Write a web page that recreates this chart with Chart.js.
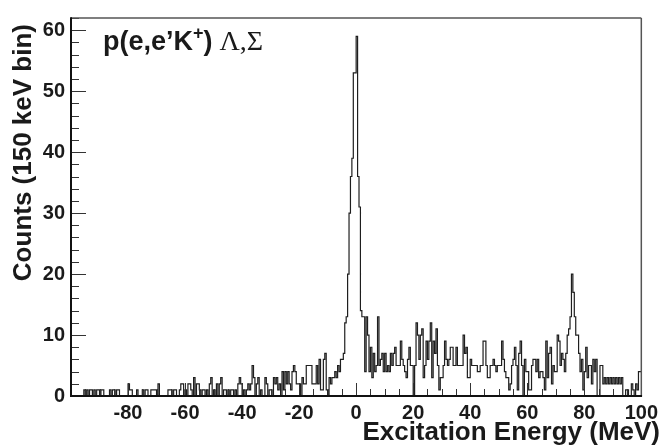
<!DOCTYPE html>
<html><head><meta charset="utf-8">
<script src="https://cdn.jsdelivr.net/npm/chart.js@4.4.1/dist/chart.umd.min.js"></script>
<style>html,body{margin:0;padding:0;background:#fff}#wrap{width:663px;height:445px;position:relative}</style>
</head><body><div id="wrap"><canvas id="c" width="663" height="445"></canvas></div>
<script>
// ---- data (counts per bin, bins of binWidth MeV starting at binStart) ----
const binStart = -100;
const binWidth = 0.5;
const counts = [
  0,0,0,0,0,0,0,0,0,1,      // -100
  0,1,0,1,1,0,1,0,1,1,      // -95
  0,1,1,0,0,0,0,1,0,1,      // -90
  1,0,1,1,0,0,0,0,0,0,      // -85
  2,1,1,0,0,0,1,0,0,0,      // -80
  1,0,1,1,0,0,1,1,1,1,      // -75
  0,2,0,0,0,0,0,0,1,1,      // -70
  1,0,1,1,0,0,1,2,2,0,      // -65
  1,0,2,2,1,0,3,0,2,2,      // -60
  1,0,1,1,0,1,0,2,3,0,      // -55
  1,0,2,0,2,3,0,1,1,0,      // -50
  1,0,1,1,0,1,0,2,3,2,      // -45
  0,1,0,1,2,1,2,5,3,0,      // -40
  2,3,0,1,0,0,3,2,0,1,      // -35
  1,0,3,2,3,1,2,0,4,1,      // -30
  4,2,4,2,1,4,5,4,2,2,      // -25
  2,0,3,2,2,5,5,5,5,2,      // -20
  2,2,5,2,6,1,1,6,7,1,      // -15
  0,3,2,3,3,4,3,5,4,6,      // -10
  6,7,12,13,20,30,36,39,53,53, // -5
  59,36,31,14,13,13,4,13,10,4, // 0
  8,3,7,4,5,13,5,6,7,4,     // 5
  7,4,5,4,7,5,7,8,5,5,      // 10
  5,9,6,5,4,3,6,8,5,5,      // 15
  0,5,12,10,6,10,11,3,5,9,  // 20
  6,9,12,3,9,7,11,5,1,3,    // 25
  3,5,9,6,5,6,8,8,5,5,      // 30
  8,5,5,5,5,10,7,8,3,3,     // 35
  6,5,5,5,5,4,4,5,5,9,      // 40
  9,5,3,3,5,5,6,5,4,5,      // 45
  5,5,9,6,4,3,3,1,2,5,      // 50
  6,8,5,1,7,9,5,0,6,4,      // 55
  4,1,1,5,6,6,4,6,3,4,      // 60
  4,3,1,9,3,7,8,2,5,4,      // 65
  4,10,9,5,7,6,4,7,10,11,   // 70
  13,20,17,13,10,10,7,4,6,1,// 75
  4,8,3,5,5,2,6,4,6,0,      // 80
  0,5,5,2,3,2,3,2,3,2,      // 85
  3,2,3,2,3,2,3,0,0,1,      // 90
  1,0,0,2,1,0,2,1,4,4       // 95
];
const xRange = [-100, 100];
const yRange = [0, 62];
const xTickLabels = [-80, -60, -40, -20, 0, 20, 40, 60, 80, 100];
const yTickLabels = [0, 10, 20, 30, 40, 50, 60];
const xMinorStep = 5, xMajorStep = 20;
const yMinorStep = 2, yMajorStep = 10;
const xTitle = 'Excitation Energy (MeV)';
const yTitle = 'Counts (150 keV bin)';

// histogram outline points (left bin edges + closing right edge)
const pts = counts.map((v, i) => ({x: binStart + i * binWidth, y: v}));
pts.push({x: binStart + counts.length * binWidth, y: counts[counts.length - 1]});

const SANS = '"Liberation Sans", Arial, Helvetica, sans-serif';
const SERIF = '"Liberation Serif", "Times New Roman", serif';

const framePlugin = {
  id: 'rootFrame',
  afterDraw(chart) {
    const {ctx, chartArea: a, scales: {x, y}} = chart;
    ctx.save();
    const seg = (x1, y1, x2, y2) => { ctx.beginPath(); ctx.moveTo(x1, y1); ctx.lineTo(x2, y2); ctx.stroke(); };
    // inward ticks
    ctx.strokeStyle = '#333'; ctx.lineWidth = 1;
    for (let v = xRange[0]; v <= xRange[1]; v += xMinorStep) {
      const px = Math.round(x.getPixelForValue(v)) + 0.5;
      const len = (v % xMajorStep === 0) ? 13 : 7;
      seg(px, a.bottom, px, a.bottom - len);
    }
    for (let v = yRange[0]; v <= yRange[1]; v += yMinorStep) {
      const py = Math.round(y.getPixelForValue(v)) + 0.5;
      const len = (v % yMajorStep === 0) ? 15 : 8;
      seg(a.left, py, a.left + len, py);
    }
    // frame
    ctx.strokeStyle = '#555'; ctx.lineWidth = 1.5;
    seg(a.left, a.top, a.right, a.top);
    seg(a.right, a.top, a.right, a.bottom);
    ctx.strokeStyle = '#111'; ctx.lineWidth = 2;
    seg(a.left, a.top - 0.75, a.left, a.bottom + 1);
    seg(a.left - 1, a.bottom, a.right + 0.75, a.bottom);
    // axis titles
    ctx.fillStyle = '#1a1a1a';
    ctx.font = 'bold 26px ' + SANS;
    ctx.textAlign = 'right'; ctx.textBaseline = 'alphabetic';
    ctx.fillText(xTitle, 660, 440);
    ctx.save();
    ctx.translate(31, 24); ctx.rotate(-Math.PI / 2);
    ctx.fillText(yTitle, 0, 0);
    ctx.restore();
    // reaction label
    let cx = 103; const by = 50;
    ctx.textAlign = 'left';
    const part = (t, font, dy) => { ctx.font = font; ctx.fillText(t, cx, by + (dy || 0)); cx += ctx.measureText(t).width; };
    part('p(e,e\u2019K', 'bold 27px ' + SANS);
    part('+', 'bold 18px ' + SANS, -11);
    part(')', 'bold 27px ' + SANS);
    cx += 7;
    part('\u039B,\u03A3', '28px ' + SERIF);
    ctx.restore();
  }
};

new Chart(document.getElementById('c'), {
  type: 'line',
  data: {datasets: [{
    data: pts, stepped: true, borderColor: '#1e1e1e', borderWidth: 1.2,
    pointRadius: 0, fill: false, tension: 0
  }]},
  options: {
    responsive: false, animation: false,
    layout: {padding: {left: 0, right: 20, top: 10, bottom: 0}},
    plugins: {legend: {display: false}, tooltip: {enabled: false}},
    scales: {
      x: {
        type: 'linear', min: xRange[0], max: xRange[1],
        afterBuildTicks: s => { s.ticks = xTickLabels.map(v => ({value: v})); },
        grid: {display: false, drawTicks: false}, border: {display: false},
        ticks: {font: {family: SANS, weight: 'bold', size: 20}, color: '#1a1a1a', padding: 5, maxRotation: 0, autoSkip: false},
        afterFit: s => { s.height = 49; }
      },
      y: {
        type: 'linear', min: yRange[0], max: yRange[1],
        afterBuildTicks: s => { s.ticks = yTickLabels.map(v => ({value: v})); },
        grid: {display: false, drawTicks: false}, border: {display: false},
        ticks: {font: {family: SANS, weight: 'bold', size: 20}, color: '#1a1a1a', padding: 6, autoSkip: false},
        afterFit: s => { s.width = 71; }
      }
    }
  },
  plugins: [framePlugin]
});
</script></body></html>
